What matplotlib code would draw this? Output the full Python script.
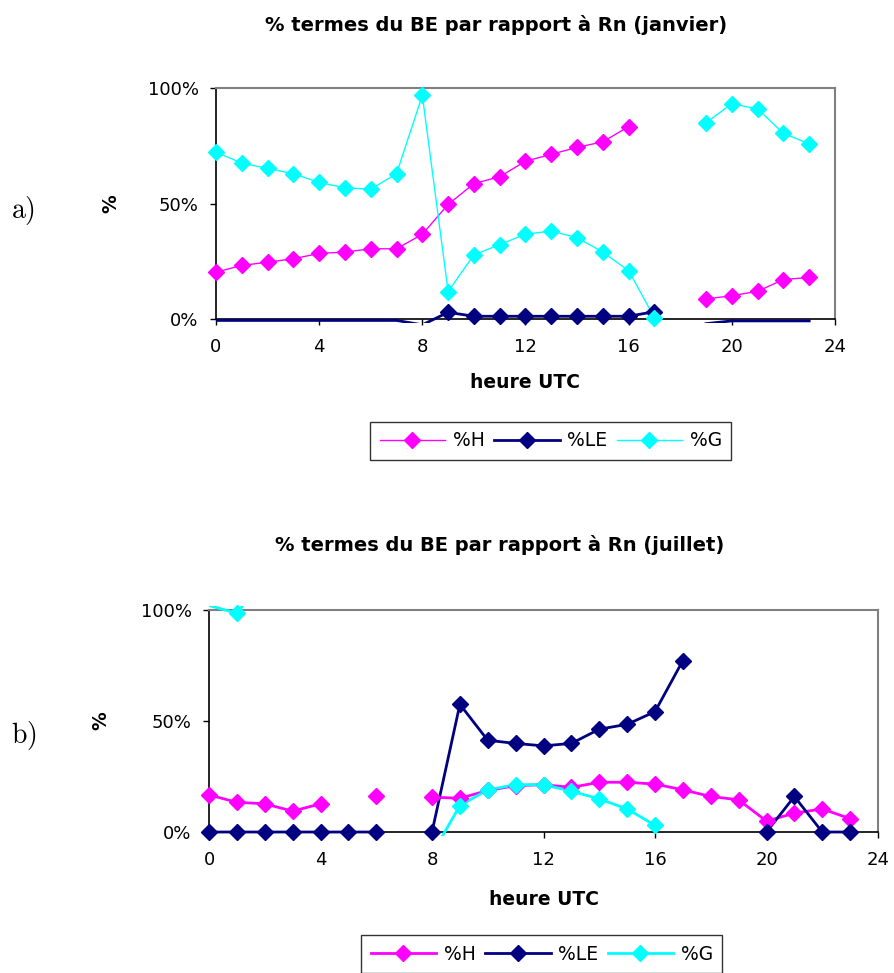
import numpy as np
import matplotlib
matplotlib.use("Agg")
import matplotlib.pyplot as plt
from matplotlib.patches import Rectangle
from matplotlib.lines import Line2D

plt.rcParams['font.family'] = ['DejaVu Sans']
plt.rcParams['mathtext.fontset'] = 'cm'

nan = np.nan
hours = np.arange(24)

# janvier
jan_H = [20.3, 23.2, 24.6, 26.1, 28.4, 29.0, 30.4, 30.4, 36.7, 49.6, 58.6, 61.6,
         68.3, 71.3, 74.3, 76.7, 83.3, nan, nan, 8.7, 10.1, 12.0, 17.1, 18.0]
jan_LE = [-0.6, -0.6, -0.6, -0.6, -0.6, -0.6, -0.6, -0.6, -2.5, 2.9, 1.2, 1.2,
          1.2, 1.2, 1.2, 1.2, 1.2, 3.2, nan, -2.0, -0.8, -0.8, -0.8, -0.8]
jan_G = [72.2, 67.5, 65.2, 62.9, 59.1, 56.8, 56.2, 62.9, 96.8, 11.9, 27.8, 32.2,
         36.7, 38.1, 35.2, 29.0, 20.9, 0.6, nan, 84.9, 93.2, 90.9, 80.4, 75.8]

# juillet
jul_H = [16.7, 13.4, 12.7, 9.4, 12.7, nan, 16.0, nan, 15.7, 15.2, 18.7, 20.9,
         21.3, 20.1, 22.4, 22.4, 21.6, 19.0, 16.0, 14.5, 4.9, 8.5, 10.4, 6.0]
jul_LE = [0, 0, 0, 0, 0, 0, 0, nan, 0, 57.5, 41.3, 39.9,
          38.8, 39.9, 46.3, 48.5, 54.2, 77.2, nan, nan, 0, 16.0, 0, 0]
jul_G = [102, 98.5, 115, nan, nan, nan, nan, nan, -10, 11.9, 19.0, 21.3,
         21.3, 18.4, 14.9, 10.4, 3.0, nan, nan, nan, nan, nan, nan, nan]

labels = ['%H', '%LE', '%G']
colors = ['#FF00FF', '#000080', '#00FFFF']


def draw(ax, series, widths, ylab_x, xlab_y):
    ext = 0.018
    for vals, c, lw in zip(series, colors, widths):
        v = np.array(vals, dtype=float)
        ln, = ax.plot(hours, v, color=c, lw=lw, zorder=3)
        ln.set_clip_path(Rectangle((0, -ext), 1, 1 + 2 * ext, transform=ax.transAxes))
        inside = np.where((v >= 0) & (v <= 100), v, nan)
        ax.plot(hours, inside, ls='none', marker='D', ms=8, color=c,
                mec=c, clip_on=False, zorder=4)
    ax.set_xlim(0, 24)
    ax.set_ylim(0, 100)
    ax.set_xticks(range(0, 25, 4))
    ax.set_yticks([0, 50, 100])
    ax.set_yticklabels(['0%', '50%', '100%'])
    ax.tick_params(labelsize=13, length=4.5, width=1, direction='out')
    ax.tick_params(axis='y', pad=8)
    ax.tick_params(axis='x', pad=9)
    for s in ['top', 'right']:
        ax.spines[s].set_color('#808080')
        ax.spines[s].set_linewidth(1.5)
    for s in ['left', 'bottom']:
        ax.spines[s].set_color('black')
        ax.spines[s].set_linewidth(1.2)
    ax.set_xlabel('heure UTC', fontsize=13.5, fontweight='bold')
    ax.set_ylabel('%', fontsize=13.5, fontweight='bold')
    ax.xaxis.set_label_coords(0.5, xlab_y)
    ax.yaxis.set_label_coords(ylab_x, 0.5)


fig = plt.figure(figsize=(8.94, 9.73), dpi=100)
ax1 = fig.add_axes([0.2416, 0.6721, 0.6924, 0.2375])
ax2 = fig.add_axes([0.2338, 0.1449, 0.7483, 0.2282])

draw(ax1, [jan_H, jan_LE, jan_G], [1.0, 2.0, 1.0], -0.155, -0.235)
draw(ax2, [jul_H, jul_LE, jul_G], [2.0, 2.0, 2.0], -0.148, -0.26)

fig.text(0.555, 0.974, '% termes du BE par rapport à Rn (janvier)',
         fontsize=14, fontweight='bold', ha='center', va='center')
fig.text(0.559, 0.440, '% termes du BE par rapport à Rn (juillet)',
         fontsize=14, fontweight='bold', ha='center', va='center')
fig.text(0.012, 0.784, r'$\mathrm{a)}$', fontsize=20, ha='left', va='center')
fig.text(0.012, 0.2446, r'$\mathrm{b)}$', fontsize=20, ha='left', va='center')

for lw, anchor in [([1.0, 2.0, 1.0], (0.616, 0.5468)),
                   ([2.0, 2.0, 2.0], (0.606, 0.0195))]:
    handles = [Line2D([], [], color=c, lw=w, marker='D', ms=8)
               for c, w in zip(colors, lw)]
    leg = fig.legend(handles, labels, loc='center', bbox_to_anchor=anchor,
                     ncol=3, fontsize=13.5, frameon=True, fancybox=False,
                     edgecolor='black', handlelength=3.5, handletextpad=0.4,
                     columnspacing=0.5, borderpad=0.5)
    leg.get_frame().set_linewidth(1.0)

fig.savefig('out.png', dpi=100)
